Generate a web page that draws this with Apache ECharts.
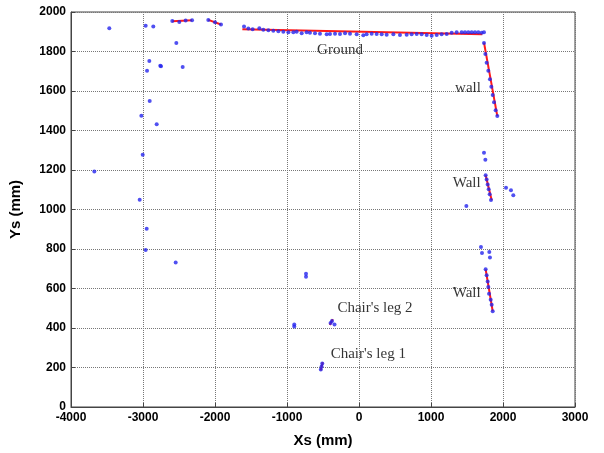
<!DOCTYPE html>
<html>
<head>
<meta charset="utf-8">
<script src="https://cdn.jsdelivr.net/npm/echarts@6/dist/echarts.min.js"></script>
<style>
  html, body { margin: 0; padding: 0; background: #fff; }
  #chart { width: 604px; height: 453px; }
</style>
</head>
<body>
<div id="chart"></div>
<script>
// Scattered laser points (blue), in mm
const strayPoints = [
  [-3468, 1918], [-2963, 1930], [-2857, 1927], [-2537, 1843], [-2912, 1752],
  [-2944, 1703], [-2760, 1728], [-2750, 1725], [-2449, 1722], [-2907, 1550],
  [-3023, 1475], [-2810, 1432], [-3004, 1277], [-3676, 1192], [-3046, 1050],
  [-2949, 902], [-2963, 795], [-2546, 732], [-736, 675], [-736, 659],
  [-899, 418], [-899, 407], [1736, 1287], [1755, 1252], [1491, 1018],
  [2042, 1110], [2111, 1098], [2143, 1072], [1694, 810], [1708, 780],
  [1810, 785], [1819, 757]
];

const plankPoints = [
  [-2593, 1955], [-2496, 1950], [-2408, 1957], [-2319, 1958],
  [-2093, 1960], [-2000, 1948], [-1917, 1937]
];

const groundPoints = [
  [-1597, 1927], [-1537, 1917], [-1477, 1913], [-1384, 1918], [-1329, 1910],
  [-1259, 1907], [-1190, 1905], [-1120, 1903], [-1051, 1900], [-981, 1898],
  [-912, 1897], [-866, 1900], [-796, 1892], [-727, 1897], [-681, 1895],
  [-611, 1892], [-542, 1890], [-449, 1887], [-403, 1888], [-333, 1890],
  [-264, 1888], [-194, 1892], [-125, 1890], [-32, 1887], [60, 1882],
  [106, 1887], [176, 1890], [245, 1888], [315, 1887], [384, 1885],
  [477, 1887], [569, 1883], [662, 1885], [731, 1887], [801, 1888],
  [870, 1887], [940, 1883], [1009, 1880], [1079, 1883], [1148, 1887],
  [1218, 1888], [1287, 1895], [1356, 1898], [1426, 1898], [1472, 1898],
  [1518, 1898], [1565, 1897], [1611, 1897], [1657, 1898], [1704, 1895],
  [1736, 1897]
];

const wallPoints = [
  [1736, 1843], [1755, 1787], [1773, 1743], [1796, 1702], [1819, 1660],
  [1838, 1622], [1857, 1580], [1875, 1543], [1898, 1502], [1921, 1473],
  [1759, 1173], [1773, 1152], [1787, 1127], [1801, 1102], [1815, 1077], [1833, 1048],
  [1759, 697], [1773, 667], [1787, 635], [1796, 607], [1806, 573],
  [1829, 543], [1843, 518], [1857, 485]
];

const legPoints = [
  [-395, 425], [-375, 435], [-340, 418],
  [-530, 190], [-520, 205], [-510, 220]
];

// Fitted segments (red)
const segments = [
  [[-2593, 1953], [-2319, 1958]],
  [[-2093, 1960], [-1917, 1937]],
  [[-1620, 1913], [1713, 1887]],
  [[1736, 1845], [1921, 1473]],
  [[1759, 1173], [1843, 1047]],
  [[1759, 697], [1857, 485]],
  [[-405, 415], [-365, 445]],
  [[-532, 185], [-504, 227]]
];

// Text labels
const labelNames = ['Ground', 'wall', 'Wall', 'Wall', "Chair's leg 2", "Chair's leg 1"];
const labelPos = [[-264, 1805], [1514, 1615], [1496, 1135], [1496, 577], [222, 502], [129, 268]];

const chart = echarts.init(document.getElementById('chart'));

const blue = '#2424ee';
const series = [];

segments.forEach(seg => {
  series.push({
    type: 'line',
    data: seg,
    symbol: 'none',
    lineStyle: { color: '#ff1a1a', width: 2 },
    z: 2,
    silent: true
  });
});

series.push({
  type: 'scatter',
  data: [].concat(strayPoints, plankPoints, groundPoints, wallPoints, legPoints),
  symbol: 'circle',
  symbolSize: 4,
  itemStyle: { color: blue },
  z: 3
});

series.push({
  type: 'scatter',
  data: labelPos.map((p, i) => ({ value: p, name: labelNames[i] })),
  symbolSize: 0,
  label: {
    show: true,
    position: 'inside',
    formatter: '{b}',
    fontFamily: 'Liberation Serif',
    fontSize: 15,
    color: '#000'
  },
  z: 4
});

const tickFont = { fontFamily: 'Liberation Sans', fontWeight: 'bold', fontSize: 12, color: '#000' };

const option = {
  animation: false,
  grid: {
    left: 71, right: 29, top: 12, bottom: 41,
    show: true, borderColor: '#444', borderWidth: 1
  },
  xAxis: {
    type: 'value',
    min: -4000, max: 3000, interval: 1000,
    name: 'Xs (mm)',
    nameLocation: 'middle',
    nameGap: 26,
    nameTextStyle: { fontFamily: 'Liberation Sans', fontWeight: 'bold', fontSize: 15, color: '#000' },
    axisLine: { show: true, onZero: false, lineStyle: { color: '#444' } },
    axisTick: { show: true, inside: true, length: 4, lineStyle: { color: '#444' } },
    axisLabel: Object.assign({ margin: 5, formatter: v => String(v) }, tickFont),
    splitLine: { show: true, lineStyle: { type: 'dotted', color: '#777' } }
  },
  yAxis: {
    type: 'value',
    min: 0, max: 2000, interval: 200,
    name: 'Ys (mm)',
    nameLocation: 'middle',
    nameGap: 48,
    nameTextStyle: { fontFamily: 'Liberation Sans', fontWeight: 'bold', fontSize: 15, color: '#000' },
    axisLine: { show: true, onZero: false, lineStyle: { color: '#444' } },
    axisTick: { show: true, inside: true, length: 4, lineStyle: { color: '#444' } },
    axisLabel: Object.assign({ margin: 5, formatter: v => String(v) }, tickFont),
    splitLine: { show: true, lineStyle: { type: 'dotted', color: '#777' } }
  },
  series: series
};

chart.setOption(option);
</script>
</body>
</html>
